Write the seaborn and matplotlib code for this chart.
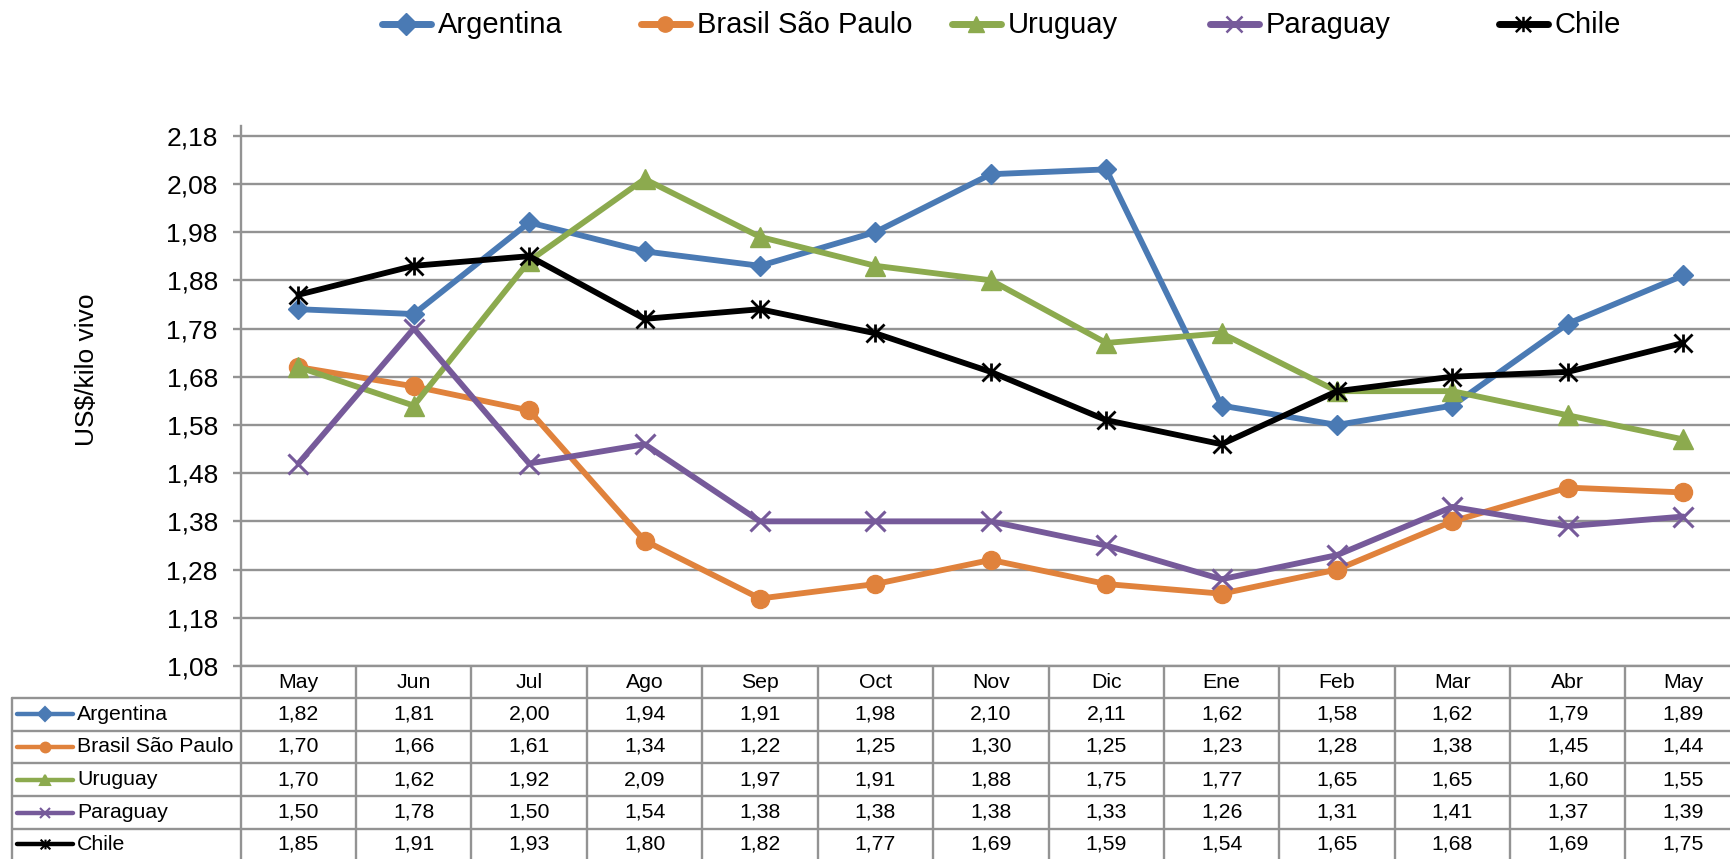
import numpy as np
import pandas as pd
import matplotlib
matplotlib.use("Agg")
import matplotlib.pyplot as plt
import matplotlib.transforms as mtransforms
from matplotlib.path import Path
import seaborn as sns

# ---------------- data ----------------
months = ["May", "Jun", "Jul", "Ago", "Sep", "Oct", "Nov", "Dic", "Ene", "Feb", "Mar", "Abr", "May"]
series_names = ["Argentina", "Brasil São Paulo", "Uruguay", "Paraguay", "Chile"]
argentina = [1.82, 1.81, 2.00, 1.94, 1.91, 1.98, 2.10, 2.11, 1.62, 1.58, 1.62, 1.79, 1.89]
brasil = [1.70, 1.66, 1.61, 1.34, 1.22, 1.25, 1.30, 1.25, 1.23, 1.28, 1.38, 1.45, 1.44]
uruguay = [1.70, 1.62, 1.92, 2.09, 1.97, 1.91, 1.88, 1.75, 1.77, 1.65, 1.65, 1.60, 1.55]
paraguay = [1.50, 1.78, 1.50, 1.54, 1.38, 1.38, 1.38, 1.33, 1.26, 1.31, 1.41, 1.37, 1.39]
chile = [1.85, 1.91, 1.93, 1.80, 1.82, 1.77, 1.69, 1.59, 1.54, 1.65, 1.68, 1.69, 1.75]
y_ticks = [1.08, 1.18, 1.28, 1.38, 1.48, 1.58, 1.68, 1.78, 1.88, 1.98, 2.08, 2.18]
y_label = "US$/kilo vivo"

values = [argentina, brasil, uruguay, paraguay, chile]

# ---------------- styles ----------------
colors = ["#4A7AB4", "#E0823C", "#8CAA4E", "#765A9A", "#000000"]
asterisk = Path([(0, -1), (0, 1), (-1, -1), (1, 1), (-1, 1), (1, -1)],
                [Path.MOVETO, Path.LINETO] * 3)
markers = ["D", "o", "^", "x", asterisk]
msizes = [10, 13, 14, 14, 13]
mews = [1, 1, 1, 2.2, 2.0]

W, H = 1731, 859
FONT = "Liberation Sans"

sns.set_theme(style="white")
plt.rcParams["font.family"] = [FONT, "DejaVu Sans"]

fig = plt.figure(figsize=(W / 100, H / 100), dpi=100)
fig.patch.set_facecolor("white")

# geometry (pixels)
ax_left = 240.7
col_w = 115.4
ax_bottom_px = 666
ax_top_px = 126

ax = fig.add_axes([ax_left / W, (H - ax_bottom_px) / H,
                   13 * col_w / W, (ax_bottom_px - ax_top_px) / H])
ax.set_facecolor("white")

long = pd.DataFrame({
    "x": np.tile(np.arange(len(months)), len(series_names)),
    "value": np.concatenate(values),
    "serie": np.repeat(series_names, len(months)),
})

for name, c, m, ms, mew in zip(series_names, colors, markers, msizes, mews):
    sub = long[long["serie"] == name]
    sns.lineplot(data=sub, x="x", y="value", ax=ax, color=c, linewidth=4.2,
                 marker=m, markersize=ms, markeredgewidth=mew,
                 markeredgecolor=c, markerfacecolor=c, legend=False,
                 solid_joinstyle="round")

grid_c = "#939393"
ax.set_xlim(-0.5, len(months) - 0.5)
ax.set_ylim(1.08, 2.2)
ax.set_yticks(y_ticks)
ax.set_yticklabels([f"{t:.2f}".replace(".", ",") for t in y_ticks])
ax.set_xticks([])
ax.set_xlabel("")
ax.set_ylabel("")
ax.yaxis.grid(True, color=grid_c, linewidth=1.7)
ax.set_axisbelow(True)
ax.tick_params(axis="y", left=True, length=5.5, width=1.7, color=grid_c,
               pad=11, labelsize=19, labelcolor="black")
for s in ["top", "right"]:
    ax.spines[s].set_visible(False)
for s in ["left", "bottom"]:
    ax.spines[s].set_color(grid_c)
    ax.spines[s].set_linewidth(1.7)

fig.text(87 / W, 1 - 370 / H, y_label, rotation=90, ha="center", va="center",
         fontsize=19, color="black")

# ---------------- overlay for data table and legend ----------------
tab = fig.add_axes([0, 0, 1, 1])
tab.set_xlim(0, W)
tab.set_ylim(H, 0)
tab.axis("off")
tab.patch.set_alpha(0)
tab.set_zorder(-1)

bt = mtransforms.blended_transform_factory(ax.transData, tab.transData)

row_lines = [697.5, 730.5, 763, 796, 829]
row_centers = [714, 746.5, 779.5, 812.5, 844]
header_center = 682
tbl_left = 11.7
lw_tab = 1.7

# vertical column lines
for k in range(len(months) + 1):
    tab.plot([k - 0.5, k - 0.5], [ax_bottom_px, H + 5], transform=bt,
             color=grid_c, lw=lw_tab, clip_on=False)
# outer left border
tab.plot([tbl_left, tbl_left], [row_lines[0], H + 5], color=grid_c, lw=lw_tab)
# horizontal row lines
for yl in row_lines:
    tab.plot([tbl_left, W + 5], [yl, yl], color=grid_c, lw=lw_tab, clip_on=False)

# header months
for i, mth in enumerate(months):
    tab.text(i, header_center, mth, transform=bt, ha="center", va="center",
             fontsize=15.3, color="black")

# rows
for r, (name, vals, c, m) in enumerate(zip(series_names, values, colors, markers)):
    yc = row_centers[r]
    tab.plot([17, 73], [yc, yc], color=c, lw=3.2, solid_capstyle="round")
    tab.plot([45], [yc], marker=m, ms=7, color=c, mec=c, mew=1.5)
    tab.text(77, yc, name, ha="left", va="center", fontsize=15.3, color="black")
    for i, v in enumerate(vals):
        tab.text(i, yc, f"{v:.2f}".replace(".", ","), transform=bt,
                 ha="center", va="center", fontsize=15.3, color="black")

# top legend
leg_x = [379, 638, 949, 1207, 1496]
leg_y = 24
for name, c, m, x0, mew in zip(series_names, colors, markers, leg_x, mews):
    tab.plot([x0 + 3, x0 + 52], [leg_y, leg_y], color=c, lw=5, solid_capstyle="round")
    tab.plot([x0 + 27.5], [leg_y], marker=m, ms=11, color=c, mec=c, mew=min(mew, 1.8))
    tab.text(x0 + 59, leg_y + 1, name, ha="left", va="center", fontsize=21, color="black")

fig.savefig("out.png", dpi=100, facecolor="white")
